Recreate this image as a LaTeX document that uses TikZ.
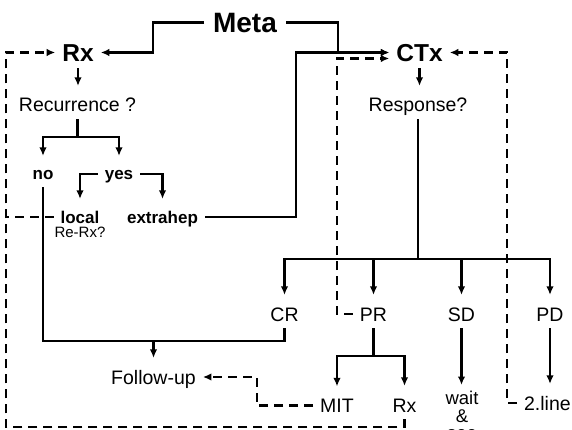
\documentclass[tikz,border=0pt]{standalone}
\usepackage{fontspec}
\setmainfont{Liberation Sans}
\usetikzlibrary{arrows.meta}
\tikzset{>={Latex[length=8.5pt,width=7.5pt]},
	lbl/.style={% plain labels, centred on the cap height
		inner sep=6pt,
		text height=14pt,
		text depth=0pt,
		font=\fontsize{19.5}{21}\selectfont
	},
	head/.style={lbl, text height=17.5pt, font=\fontsize{24.5}{26}\selectfont\bfseries},
	pick/.style={lbl, text height=12pt, font=\fontsize{17}{18}\selectfont\bfseries},
	drop/.style={->, shorten >=5pt},
	loopline/.style={line width=2.6pt, dash pattern=on 9pt off 6pt},
	loopback/.style={->, loopline}
}

\begin{document}
\begin{tikzpicture}[x=1pt, y=-1pt, line width=2.2pt]
	\useasboundingbox (0,0) rectangle (572,430);
	\node [head, inner xsep=8pt, text height=19.5pt, font=\fontsize{28}{30}\selectfont\bfseries] (meta) at (245,22.5) {Meta};
	\node [head] (rx) at (78,52.5) {Rx};
	\node [head] (ctx) at (419.5,52.5) {CTx};
	\node [lbl] (recur) at (77.5,105) {Recurrence ?};
	\node [lbl] (resp) at (418,105) {Response?};
	\node [pick] (no) at (43,174) {no};
	\node [pick] (yes) at (119,174) {yes};
	\node [pick] (local) at (80,217) {local};
	\node [lbl, inner sep=0pt, text height=10.7pt, font=\fontsize{15}{16}\selectfont] (rerx) at (80,232.5) {Re-Rx?};
	\node [pick] (extra) at (162.5,217) {extrahep};
	\node [lbl] (cr) at (284.5,314) {CR};
	\node [lbl] (pr) at (373.5,314) {PR};
	\node [lbl] (sd) at (461.5,314) {SD};
	\node [lbl] (pd) at (550,314) {PD};
	\node [lbl] (follow) at (153.5,377) {Follow-up};
	\node [lbl] (mit) at (337,405.5) {MIT};
	\node [lbl] (rx2) at (404.5,405) {Rx};
	\node [anchor=north, inner sep=0pt, align=center, font=\fontsize{18.5}{17.5}\selectfont] (wait) at (462,390) {wait\\\&\\see};
	\node [lbl, anchor=west] (twoline) at (517,403) {2.line};
	\coordinate (rim) at (6,427);
	% Meta splits into both arms
	\draw [->] (meta.west) -- ++(-51,0) |- (rx.east);
	\draw [->] (meta.east) -- ++(52,0) |- (ctx.west);
	% Rx arm
	\draw [drop] (rx.south) -- (rx.south |- recur.north);
	\draw (recur.south) -- ++(0,18) coordinate (recsplit);
	\draw [drop] (recsplit) -| (no.north);
	\draw [drop] (recsplit) -| (yes.north);
	\draw [drop] (yes.west) -| (local.north);
	\draw [drop] (yes.east) -| (extra.north);
	\draw [->] (extra.east) -| ([xshift=-93pt]ctx.west) -- (ctx.west);
	% CTx arm
	\draw [drop] (ctx.south) -- (ctx.south |- resp.north);
	\draw (resp.south) -- ++(0,140) coordinate (respsplit);
	\draw [drop] (respsplit) -| (cr.north);
	\draw [drop] (respsplit) -| (pr.north);
	\draw [drop] (respsplit) -| (sd.north);
	\draw [drop] (respsplit) -| (pd.north);
	\draw (pr.south) -- ++(0,28) coordinate (prsplit);
	\draw [drop] (prsplit) -| (mit.north);
	\draw [drop] (prsplit) -| (rx2.north);
	\draw [drop] (sd.south) -- (sd.south |- wait.north);
	\draw [drop] (pd.south) -- (pd.south |- twoline.north);
	% both "no" and CR end in follow-up
	\draw (no.south) |- ([yshift=22pt]follow.north) -| (cr.south);
	\draw [drop] ([yshift=22pt]follow.north) -- (follow.north);
	% dashed returns
	\draw [loopback] (rx2.south) |- (rim) |- (rx.west);
	\draw [loopline] (local.west) -- (local.west -| rim);
	\draw [loopback] (mit.west) -- ++(-56,0) |- (follow.east);
	\draw [loopback] (pr.west) -- ++(-16,0) |- ([yshift=-6pt]ctx.west);
	\draw [loopback] (twoline.west) -- ++(-10,0) |- (ctx.east);
\end{tikzpicture}
\end{document}
